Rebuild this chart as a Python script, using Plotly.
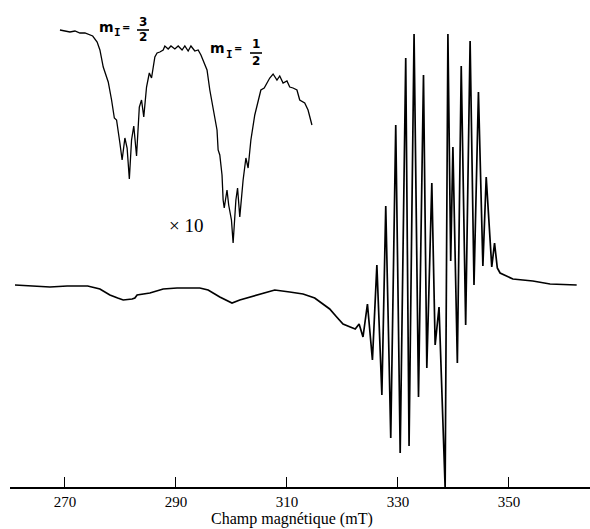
import plotly.graph_objects as go

# Main EPR spectrum: magnetic field (mT) and first-derivative intensity (arb. units)
field_main = [261.0, 263.7, 267.3, 270.4, 274.1, 276.3, 278.1, 279.5, 280.5, 282.1, 282.6, 283.0,
              285.3, 287.7, 290.2, 294.3, 295.8, 297.9, 299.4, 300.1, 301.5, 303.9, 306.0, 307.8,
              310.5, 312.9, 315.0, 316.3, 317.7, 318.8, 320.1, 321.4, 322.3, 323.0, 323.7, 324.5,
              325.4, 326.2, 327.1, 327.8, 328.7, 329.6, 330.4, 331.4, 332.0, 332.9, 333.7, 334.6,
              335.2, 336.1, 336.7, 337.4, 338.5, 339.0, 339.5, 339.9, 340.7, 341.4, 342.2, 343.0,
              343.7, 344.5, 345.3, 345.9, 346.9, 347.4, 347.9, 348.4, 349.2, 350.7, 354.3, 357.4,
              362.2]
intensity_main = [0, -1, -2, -1, -1, -4, -10, -13, -15, -14, -13, -10,
                  -8, -4, -3, -3, -5, -12, -16, -18, -15, -11, -8, -5,
                  -7, -9, -13, -18, -24, -31, -39, -42, -44, -39, -52, -19,
                  -75, 20, -110, 79, -153, 160, -168, 227, -161, 251, -112, 210,
                  -83, 102, -60, -22, -203, 251, 24, 138, -78, 219, -40, 244,
                  0, 193, 19, 108, 18, 42, 17, 12, 10, 6, 4, 1,
                  0]

# Expanded (x10) low-field part, drawn above the main trace
field_x10 = [269.1, 270.2, 270.9, 271.8, 272.7, 273.6, 274.1, 275.0, 275.8, 276.3, 276.9, 277.4,
             277.8, 278.4, 278.9, 279.3, 279.6, 279.9, 280.3, 280.8, 281.2, 281.6, 282.0, 282.4,
             282.9, 283.4, 283.8, 284.2, 284.7, 285.2, 285.6, 286.2, 286.6, 287.1, 287.7, 288.0,
             288.6, 289.1, 289.8, 290.4, 291.1, 291.6, 292.2, 292.7, 293.4, 294.0, 294.5, 294.9,
             295.6, 296.1, 296.7, 297.4, 297.6, 297.9, 298.3, 298.5, 298.7, 299.2, 299.5, 300.0,
             300.3, 300.8, 301.1, 301.5, 302.1, 302.6, 303.0, 303.5, 304.2, 304.8, 305.3, 305.9,
             306.4, 306.9, 307.5, 308.2, 308.7, 309.3, 310.0, 310.5, 311.1, 311.8, 312.3, 313.2,
             313.8, 314.1, 314.5]
intensity_x10 = [255, 254, 253, 254, 252, 252, 251, 249, 243, 235, 218, 210,
                 203, 185, 167, 165, 155, 142, 125, 147, 137, 106, 145, 159,
                 129, 178, 185, 168, 198, 212, 207, 228, 232, 233, 235, 239,
                 236, 239, 236, 239, 235, 239, 234, 239, 234, 235, 230, 225,
                 215, 195, 175, 155, 135, 130, 110, 85, 77, 95, 80, 65,
                 42, 85, 97, 68, 105, 127, 117, 145, 170, 185, 195, 197,
                 202, 207, 211, 205, 209, 202, 204, 198, 197, 195, 185, 182,
                 175, 168, 160]

tick_vals = [270, 290, 310, 330, 350]
tick_text = ["270", "290", "310", "330", "350"]
x_title = "Champ magnétique (mT)"

W, H = 590, 529
L, R, T, B = 10, 0, 0, 42


def px(xp):
    return (xp - L) / (W - L - R)


def py(yp):
    return (H - B - yp) / (H - B - T)


fig = go.Figure()
fig.add_trace(go.Scatter(x=field_main, y=intensity_main, mode="lines",
                         line=dict(color="black", width=1.7), hoverinfo="skip"))
fig.add_trace(go.Scatter(x=field_x10, y=intensity_x10, mode="lines",
                         line=dict(color="black", width=1.3), hoverinfo="skip"))

serif = "Liberation Serif, Times New Roman, serif"
sans = "DejaVu Sans, Arial, sans-serif"
mono = "DejaVu Sans Mono, monospace"


def lab(x, y, text, family, size):
    return dict(x=px(x), y=py(y), text=text, font=dict(family=family, size=size, color="black"),
                xref="paper", yref="paper", showarrow=False, xanchor="center", yanchor="middle")


ann = [
    # m_I = 3/2
    lab(106, 27, "<b>m</b>", sans, 14),
    lab(117, 33, "<b>I</b>", mono, 11),
    lab(126, 28, "<b>=</b>", sans, 10),
    lab(143, 22, "<b>3</b>", sans, 12),
    lab(143, 37, "<b>2</b>", sans, 12),
    # m_I = 1/2
    lab(217, 48, "<b>m</b>", sans, 14),
    lab(229, 55, "<b>I</b>", mono, 11),
    lab(238, 48, "<b>=</b>", sans, 10),
    lab(256, 44, "<b>1</b>", sans, 12),
    lab(256, 61, "<b>2</b>", sans, 12),
    # x10
    lab(186, 225, "× 10", serif, 19),
    # axis title
    lab(292, 519, x_title, serif, 16),
]

shapes = [
    dict(type="line", xref="paper", yref="paper", x0=px(137), x1=px(149), y0=py(30), y1=py(30),
         line=dict(color="black", width=1.6)),
    dict(type="line", xref="paper", yref="paper", x0=px(250), x1=px(262), y0=py(53), y1=py(53),
         line=dict(color="black", width=1.6)),
]

fig.update_layout(
    width=W, height=H,
    margin=dict(l=L, r=R, t=T, b=B),
    paper_bgcolor="white", plot_bgcolor="white",
    showlegend=False,
    annotations=ann,
    shapes=shapes,
    xaxis=dict(range=[260.1, 364.6], showgrid=False, zeroline=False,
               showline=True, linecolor="black", linewidth=1.5,
               ticks="inside", ticklen=10, tickwidth=1.2, tickcolor="black",
               tickvals=tick_vals, ticktext=tick_text,
               tickfont=dict(family=serif, size=15, color="black")),
    yaxis=dict(range=[-202, 285], visible=False, showgrid=False, zeroline=False),
)

fig.write_html("out.html", config={"displayModeBar": False},
               post_script="document.body.style.margin='0';document.body.style.padding='0';")
